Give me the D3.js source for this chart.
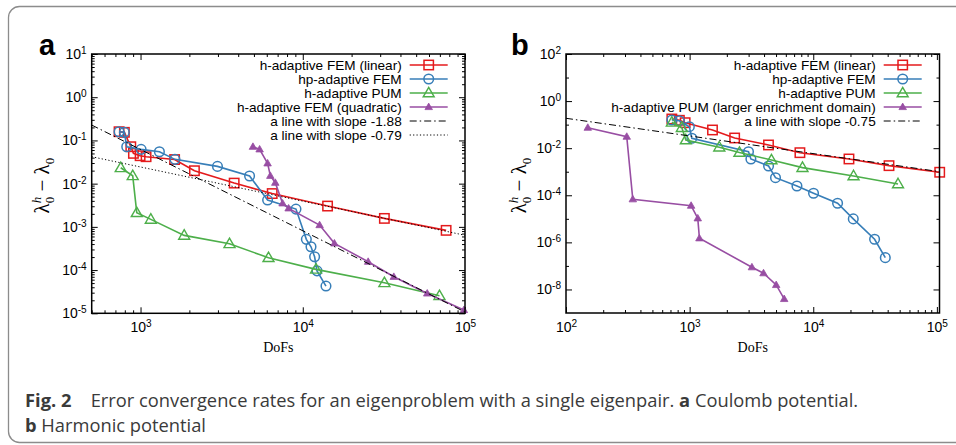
<!DOCTYPE html>
<html><head><meta charset="utf-8">
<script src="https://cdn.jsdelivr.net/npm/d3@7"></script>
<style>body{margin:0;background:#fff} svg{display:block}</style>
</head><body><svg id="c" width="956" height="445"></svg>
<script>
// ---------------- data ----------------
const legendA = ["h-adaptive FEM (linear)", "hp-adaptive FEM", "h-adaptive PUM", "h-adaptive FEM (quadratic)", "a line with slope -1.88", "a line with slope -0.79"];
const legendB = ["h-adaptive FEM (linear)", "hp-adaptive FEM", "h-adaptive PUM", "h-adaptive PUM (larger enrichment domain)", "a line with slope -0.75"];

const aLinear = [[737,0.159],[795,0.154],[871,0.0715],[904,0.0502],[994,0.0443],[1082,0.042],[1622,0.0361],[2149,0.0199],[3777,0.0103],[6480,0.0059],[14220,0.00303],[31840,0.00157],[76500,0.00083]];
const aHp = [[737,0.159],[795,0.154],[822,0.0715],[1008,0.0622],[1307,0.0547],[1630,0.0365],[2980,0.0251],[4700,0.0150],[6070,0.00417],[9080,0.00258],[10520,0.000514],[11240,0.000346],[11830,0.000203],[12240,9.6e-5],[13900,4.27e-5]];
const aPum = [[755,0.0233],[895,0.0152],[948,0.00212],[1157,0.00149],[1858,0.000635],[3535,0.000406],[6150,0.000193],[12070,0.000104],[31850,5.08e-5],[69600,2.54e-5]];
const aQuad = [[4930,0.0714],[5420,0.0622],[6070,0.0295],[6310,0.0152],[6770,0.0105],[7510,0.0035],[8180,0.00268],[12700,0.0011],[15670,0.000415],[25300,0.000156],[36400,7.0e-5],[58500,2.88e-5],[98400,1.19e-5]];
const aSlopes = [-1.88, -0.79];
const aAnchors = [[500, 0.227], [500, 0.042]];

const bLinear = [[718,0.174],[826,0.153],[920,0.121],[1531,0.0593],[2313,0.0271],[4345,0.0137],[7800,0.00644],[19450,0.00348],[41000,0.00181],[105400,0.00095]];
const bHp = [[718,0.157],[826,0.147],[995,0.0818],[1042,0.0263],[2993,0.0071],[3130,0.00348],[4350,0.00175],[4950,0.000558],[7380,0.000248],[10050,0.000122],[15730,4.57e-5],[21070,9.9e-6],[31340,1.35e-6],[38260,2.24e-7]];
const bPum = [[718,0.126],[865,0.0742],[932,0.0223],[1738,0.011],[2529,0.00656],[4590,0.00315],[8180,0.00149],[21180,0.00066],[48500,0.000302]];
const bLarger = [[150,0.0742],[310,0.0308],[347,6.76e-5],[1028,3.62e-5],[1164,1.05e-5],[1200,1.49e-6],[3190,8.8e-8],[3960,4.9e-8],[5015,1.55e-8],[5820,3.95e-9]];
const bSlopes = [-0.75];
const bAnchors = [[100, 0.186]];

const xDomainA = [500, 1e5], yDomainA = [1e-5, 1e1];
const xDomainB = [100, 1.05e5], yDomainB = [1e-9, 1e2];
const xTicksA = [1e3, 1e4, 1e5];
const yTicksA = [1e1, 1e0, 1e-1, 1e-2, 1e-3, 1e-4, 1e-5];
const xTicksB = [1e2, 1e3, 1e4, 1e5];
const yTicksB = [1e2, 1e0, 1e-2, 1e-4, 1e-6, 1e-8];
const yMinorB = [1e1, 1e-1, 1e-3, 1e-5, 1e-7];
const xLabel = "DoFs";
const captionFig = "Fig. 2";
const captionText = "Error convergence rates for an eigenproblem with a single eigenpair.";
const captionA = "Coulomb potential.";
const captionB = "Harmonic potential";

// ---------------- styles ----------------
const COL = {red:"#e41a1c", blue:"#377eb8", green:"#4daf4a", purple:"#984ea3"};
const SANS = "'Liberation Sans', Arial, Helvetica, sans-serif";
const SERIF = "'Liberation Serif', 'Times New Roman', serif";

const svg = d3.select("#c");
svg.append("rect").attr("x",8.5).attr("y",6.5).attr("width",1000).attr("height",436)
  .attr("rx",11).attr("fill","none").attr("stroke","#8c8c8c").attr("stroke-width",1.3);

function minorVals(domain){
  const out=[];
  const d0=Math.floor(Math.log10(domain[0])), d1=Math.ceil(Math.log10(domain[1]));
  for(let d=d0; d<=d1; d++) for(let k=2;k<=9;k++){
    const v=k*Math.pow(10,d);
    if(v>=domain[0]*0.999 && v<=domain[1]*1.001) out.push(v);
  }
  return out;
}

function marker(g, type, color, cx, cy){
  if(type==="square"){
    g.append("rect").attr("x",cx-4.7).attr("y",cy-4.7).attr("width",9.4).attr("height",9.4)
      .attr("fill","none").attr("stroke",color).attr("stroke-width",1.5);
  } else if(type==="circle"){
    g.append("circle").attr("cx",cx).attr("cy",cy).attr("r",4.8)
      .attr("fill","none").attr("stroke",color).attr("stroke-width",1.5);
  } else if(type==="triangle"){
    const s=11, h=s*0.866;
    g.append("path").attr("d",`M${cx},${cy-h*0.6}L${cx+s/2},${cy+h*0.4}L${cx-s/2},${cy+h*0.4}Z`)
      .attr("fill","none").attr("stroke",color).attr("stroke-width",1.4);
  } else if(type==="ftriangle"){
    const s=7.5, h=s*0.866;
    g.append("path").attr("d",`M${cx},${cy-h*0.6}L${cx+s/2},${cy+h*0.4}L${cx-s/2},${cy+h*0.4}Z`)
      .attr("fill",color).attr("stroke",color).attr("stroke-width",0.8);
  }
}

function supText(sel, v, sz){
  const e = Math.round(Math.log10(v));
  sel.text(null);
  sel.append("tspan").text("10");
  sel.append("tspan").attr("dy","-0.5em").attr("font-size",(sz*0.72)+"px").text(String(e));
}

function panel(cfg){
  const x=d3.scaleLog().domain(cfg.xDomain).range([cfg.left,cfg.right]);
  const y=d3.scaleLog().domain(cfg.yDomain).range([cfg.bottom,cfg.top]);
  const g=svg.append("g");
  const id="clip"+cfg.letter;
  svg.append("defs").append("clipPath").attr("id",id).append("rect")
    .attr("x",cfg.left).attr("y",cfg.top).attr("width",cfg.right-cfg.left).attr("height",cfg.bottom-cfg.top);

  const TS=14;
  const axB=d3.axisBottom(x).tickValues(cfg.xTicks).tickSize(-6).tickSizeOuter(0).tickPadding(9).tickFormat(d=>d);
  const gb=g.append("g").attr("transform",`translate(0,${cfg.bottom})`).call(axB);
  gb.selectAll(".tick text").each(function(d){supText(d3.select(this),d,TS);});
  const axL=d3.axisLeft(y).tickValues(cfg.yTicks).tickSize(-6).tickSizeOuter(0).tickPadding(5).tickFormat(d=>d);
  const gl=g.append("g").attr("transform",`translate(${cfg.left},0)`).call(axL);
  gl.selectAll(".tick text").each(function(d){supText(d3.select(this),d,TS);});
  g.append("g").attr("transform",`translate(0,${cfg.top})`)
    .call(d3.axisTop(x).tickValues(cfg.xTicks).tickSize(-6).tickSizeOuter(0).tickFormat(""));
  g.append("g").attr("transform",`translate(${cfg.right},0)`)
    .call(d3.axisRight(y).tickValues(cfg.yTicks).tickSize(-6).tickSizeOuter(0).tickFormat(""));
  const xm=minorVals(cfg.xDomain).filter(v=>!cfg.xTicks.some(t=>Math.abs(t-v)/t<1e-6));
  const ym=cfg.yMinor;
  g.append("g").attr("transform",`translate(0,${cfg.bottom})`).call(d3.axisBottom(x).tickValues(xm).tickSize(-3).tickSizeOuter(0).tickFormat(""));
  g.append("g").attr("transform",`translate(0,${cfg.top})`).call(d3.axisTop(x).tickValues(xm).tickSize(-3).tickSizeOuter(0).tickFormat(""));
  g.append("g").attr("transform",`translate(${cfg.left},0)`).call(d3.axisLeft(y).tickValues(ym).tickSize(-3).tickSizeOuter(0).tickFormat(""));
  g.append("g").attr("transform",`translate(${cfg.right},0)`).call(d3.axisRight(y).tickValues(ym).tickSize(-3).tickSizeOuter(0).tickFormat(""));
  g.selectAll(".domain").remove();
  g.selectAll(".tick line").attr("stroke","#000").attr("stroke-width",1);
  g.selectAll(".tick text").attr("font-family",SANS).attr("font-size",TS+"px").attr("fill","#000");

  const line=d3.line().x(d=>x(d[0])).y(d=>y(d[1]));
  const sg=g.append("g");
  cfg.series.forEach(s=>{
    sg.append("path").attr("d",line(s.data)).attr("fill","none").attr("stroke",s.color).attr("stroke-width",1.6);
    s.data.forEach(d=>marker(sg,s.marker,s.color,x(d[0]),y(d[1])));
  });
  const rg=g.append("g").attr("clip-path",`url(#${id})`);
  cfg.refs.forEach(r=>{
    const f=xv=>r.anchor[1]*Math.pow(xv/r.anchor[0],r.slope);
    const pts=[[cfg.xDomain[0],f(cfg.xDomain[0])],[cfg.xDomain[1],f(cfg.xDomain[1])]];
    rg.append("path").attr("d",line(pts)).attr("fill","none").attr("stroke","#000").attr("stroke-width",1)
      .attr("stroke-dasharray",r.dash);
  });
  g.append("rect").attr("x",cfg.left).attr("y",cfg.top).attr("width",cfg.right-cfg.left).attr("height",cfg.bottom-cfg.top)
    .attr("fill","none").attr("stroke","#000").attr("stroke-width",1.5);

  const lg=g.append("g");
  cfg.legend.forEach((e,i)=>{
    const cy=cfg.legTop+i*14;
    lg.append("text").attr("x",cfg.legTextX).attr("y",cy+4.5).attr("text-anchor","end")
      .attr("font-family",SANS).attr("font-size","13.6px").attr("fill","#000").text(e.name);
    lg.append("line").attr("x1",cfg.legTextX+8).attr("x2",cfg.legTextX+46).attr("y1",cy).attr("y2",cy)
      .attr("stroke",e.color).attr("stroke-width",e.marker?1.6:1).attr("stroke-dasharray",e.dash||null);
    if(e.marker) marker(lg,e.marker,e.color,cfg.legTextX+27,cy);
  });

  g.append("text").attr("x",(cfg.left+cfg.right)/2).attr("y",cfg.bottom+39).attr("text-anchor","middle")
    .attr("font-family",SERIF).attr("font-size","14px").attr("fill","#000").text(xLabel);
  const yl=g.append("text").attr("transform",`translate(${cfg.ylabX},${(cfg.top+cfg.bottom)/2+2}) rotate(-90)`)
    .attr("text-anchor","middle").attr("font-family",SERIF).attr("font-size","21px").attr("fill","#000");
  yl.append("tspan").text("λ");
  yl.append("tspan").attr("font-size","13px").attr("dy","5").text("0");
  yl.append("tspan").attr("font-size","13px").attr("font-style","italic").attr("dx","-6.5").attr("dy","-13").text("h");
  yl.append("tspan").attr("dy","8").text(" − λ");
  yl.append("tspan").attr("font-size","13px").attr("dy","5").text("0");

  svg.append("text").attr("x",cfg.letterX).attr("y",55).attr("font-family",SANS).attr("font-weight","bold")
    .attr("font-size","29px").attr("fill","#000").text(cfg.letter);
}

panel({
  letter:"a", letterX:39, ylabX:49,
  left:91.7, right:465, top:54, bottom:313.3,
  xDomain:xDomainA, yDomain:yDomainA, xTicks:xTicksA, yTicks:yTicksA,
  yMinor:minorVals(yDomainA),
  series:[
    {data:aLinear,color:COL.red,marker:"square"},
    {data:aHp,color:COL.blue,marker:"circle"},
    {data:aPum,color:COL.green,marker:"triangle"},
    {data:aQuad,color:COL.purple,marker:"ftriangle"}
  ],
  refs:[{slope:aSlopes[0],anchor:aAnchors[0],dash:"7,3,1.5,3"},{slope:aSlopes[1],anchor:aAnchors[1],dash:"1.2,2.2"}],
  legend:[
    {name:legendA[0],color:COL.red,marker:"square"},
    {name:legendA[1],color:COL.blue,marker:"circle"},
    {name:legendA[2],color:COL.green,marker:"triangle"},
    {name:legendA[3],color:COL.purple,marker:"ftriangle"},
    {name:legendA[4],color:"#000",dash:"7,3,1.5,3"},
    {name:legendA[5],color:"#000",dash:"1.2,2.2"}
  ],
  legTextX:401.7, legTop:65
});

panel({
  letter:"b", letterX:511, ylabX:526,
  left:566, right:939.5, top:54, bottom:313,
  xDomain:xDomainB, yDomain:yDomainB, xTicks:xTicksB, yTicks:yTicksB,
  yMinor:yMinorB,
  series:[
    {data:bLinear,color:COL.red,marker:"square"},
    {data:bHp,color:COL.blue,marker:"circle"},
    {data:bPum,color:COL.green,marker:"triangle"},
    {data:bLarger,color:COL.purple,marker:"ftriangle"}
  ],
  refs:[{slope:bSlopes[0],anchor:bAnchors[0],dash:"7,3,1.5,3"}],
  legend:[
    {name:legendB[0],color:COL.red,marker:"square"},
    {name:legendB[1],color:COL.blue,marker:"circle"},
    {name:legendB[2],color:COL.green,marker:"triangle"},
    {name:legendB[3],color:COL.purple,marker:"ftriangle"},
    {name:legendB[4],color:"#000",dash:"7,3,1.5,3"}
  ],
  legTextX:875.7, legTop:65
});

const CAPF="'Open Sans', 'Noto Sans', sans-serif";
const cap=svg.append("g").attr("font-family",CAPF).attr("fill","#3a3a3a");
const probe=cap.append("text").attr("font-size","16px").text(captionText+" a "+captionA);
const len=probe.node().getComputedTextLength();
probe.remove();
const fs=16*767/len;
const l1=cap.append("text").attr("y",406.5).attr("font-size",fs+"px");
l1.append("tspan").attr("x",25).attr("font-weight","bold").text(captionFig);
l1.append("tspan").attr("x",90.7).text(captionText+" ");
l1.append("tspan").attr("font-weight","bold").text("a");
l1.append("tspan").text(" "+captionA);
const l2=cap.append("text").attr("y",431.5).attr("font-size",fs+"px");
l2.append("tspan").attr("x",25).attr("font-weight","bold").text("b");
l2.append("tspan").text(" "+captionB);
</script></body></html>
